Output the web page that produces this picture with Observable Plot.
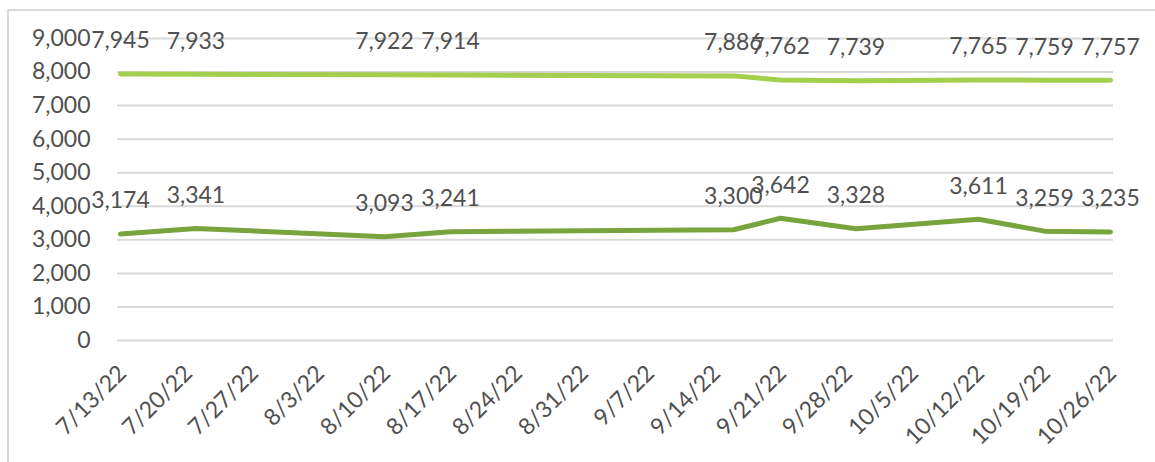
<!DOCTYPE html>
<html>
<head>
<meta charset="utf-8">
<script src="https://cdn.jsdelivr.net/npm/d3@7"></script>
<script src="https://cdn.jsdelivr.net/npm/@observablehq/plot@0.6"></script>
<style>
  html, body { margin: 0; padding: 0; background: #fff; }
  #wrap { position: relative; width: 1155px; height: 462px; overflow: hidden; }
  #frame { position: absolute; left: 7px; top: 9px; width: 1160px; height: 470px;
           border-top: 2px solid #d9d9d9; border-left: 2px solid #d9d9d9; }
  #chart { position: absolute; left: 0; top: 0; }
</style>
</head>
<body>
<div id="wrap"><div id="frame"></div><div id="chart"></div></div>
<script>
const dates = ["2022-07-13","2022-07-21","2022-08-10","2022-08-17","2022-09-16","2022-09-21","2022-09-29","2022-10-12","2022-10-19","2022-10-26"];
const upperValues = [7945, 7933, 7922, 7914, 7886, 7762, 7739, 7765, 7759, 7757];
const lowerValues = [3174, 3341, 3093, 3241, 3300, 3642, 3328, 3611, 3259, 3235];
const tickDates = ["2022-07-13","2022-07-20","2022-07-27","2022-08-03","2022-08-10","2022-08-17","2022-08-24","2022-08-31","2022-09-07","2022-09-14","2022-09-21","2022-09-28","2022-10-05","2022-10-12","2022-10-19","2022-10-26"];
const yTicks = [0,1000,2000,3000,4000,5000,6000,7000,8000,9000];

const parse = d3.utcParse("%Y-%m-%d");
const upper = dates.map((d, i) => ({date: parse(d), value: upperValues[i]}));
const lower = dates.map((d, i) => ({date: parse(d), value: lowerValues[i]}));
const ticks = tickDates.map(parse);
const fmtDate = d => `${d.getUTCMonth() + 1}/${d.getUTCDate()}/${String(d.getUTCFullYear()).slice(2)}`;
const fmtNum = d3.format(",");

const font = "Lato";
const fs = 23;
const textColor = "#505050";

const chart = Plot.plot({
  width: 1155,
  height: 462,
  marginLeft: 117,
  marginRight: 42,
  marginTop: 38,
  marginBottom: 122,
  style: {fontFamily: font, fontSize: fs + "px", color: textColor, background: "transparent"},
  x: {type: "utc", domain: [ticks[0], ticks[ticks.length - 1]], insetLeft: 3, insetRight: 3},
  y: {domain: [0, 9000]},
  marks: [
    Plot.ruleY(yTicks, {stroke: "#d9d9d9", strokeWidth: 2}),
    Plot.axisY({ticks: yTicks, tickSize: 0, tickPadding: 27, tickFormat: fmtNum, label: null, fontSize: fs, fill: textColor}),
    Plot.axisX({ticks: ticks, tickSize: 0, tickFormat: fmtDate, tickRotate: -45, tickPadding: 20, dx: 2, dy: 9, label: null, fontSize: fs, fill: textColor}),
    Plot.line(upper, {x: "date", y: "value", stroke: "#a3cf4c", strokeWidth: 5, strokeLinecap: "round", strokeLinejoin: "round"}),
    Plot.line(lower, {x: "date", y: "value", stroke: "#78a43e", strokeWidth: 5, strokeLinecap: "round", strokeLinejoin: "round"}),
    Plot.text(upper, {x: "date", y: "value", text: d => fmtNum(d.value), dy: -33, fontSize: fs, fill: textColor}),
    Plot.text(lower, {x: "date", y: "value", text: d => fmtNum(d.value), dy: -33, fontSize: fs, fill: textColor})
  ]
});
document.getElementById("chart").appendChild(chart);
</script>
</body>
</html>
